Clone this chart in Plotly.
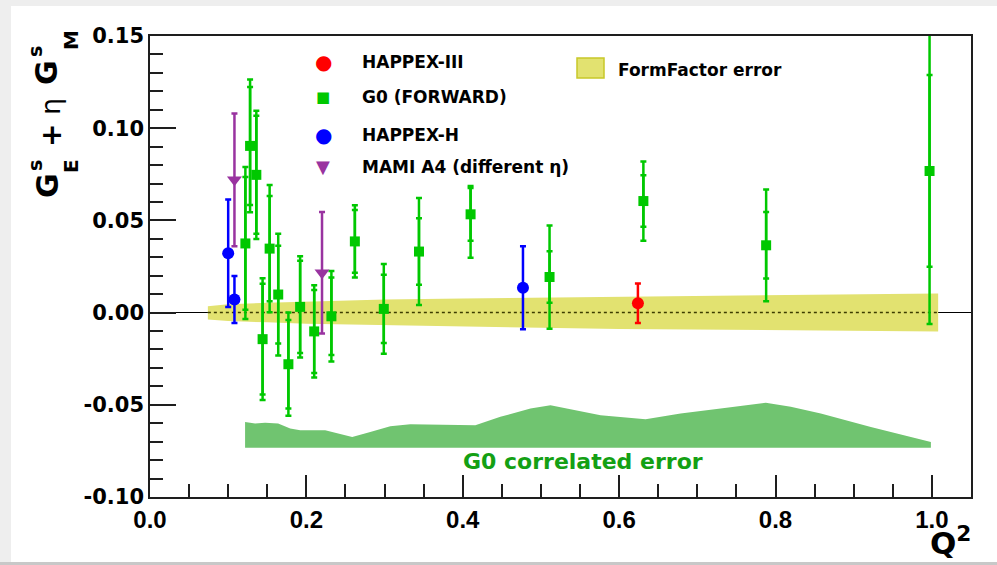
import plotly.graph_objects as go

# ---------------- data ----------------
# G0 (forward)
g0_q2 = [0.122, 0.128, 0.136, 0.144, 0.153, 0.164, 0.177, 0.192, 0.210, 0.232,
         0.262, 0.299, 0.344, 0.410, 0.511, 0.631, 0.788, 0.997]
g0_val = [0.0375, 0.0904, 0.0747, -0.0144, 0.0347, 0.0098, -0.0280, 0.0031, -0.0102, -0.0020,
          0.0386, 0.0020, 0.0331, 0.0533, 0.0193, 0.0605, 0.0365, 0.0768]
g0_stat = [0.036, 0.032, 0.032, 0.030, 0.0285, 0.0265, 0.024, 0.025, 0.0225, 0.021,
           0.017, 0.0185, 0.018, 0.0143, 0.014, 0.014, 0.018, 0.052]
g0_tot_up = [0.0415, 0.036, 0.0348, 0.033, 0.0345, 0.033, 0.028, 0.0275, 0.025, 0.0245,
             0.0196, 0.0243, 0.029, 0.0153, 0.028, 0.0215, 0.0303, 0.083]
g0_tot_dn = [0.041, 0.036, 0.0348, 0.033, 0.0345, 0.033, 0.028, 0.0275, 0.025, 0.0245,
             0.0196, 0.0243, 0.029, 0.0235, 0.028, 0.0215, 0.0303, 0.083]

# HAPPEX-III
h3_q2 = [0.624]
h3_val = [0.0051]
h3_err = [0.0107]

# HAPPEX-H
hh_q2 = [0.100, 0.108, 0.477]
hh_val = [0.0322, 0.0071, 0.0135]
hh_err = [0.0291, 0.0127, 0.0225]

# MAMI A4
a4_q2 = [0.108, 0.220]
a4_val = [0.0720, 0.0216]
a4_err = [0.0360, 0.0330]

# FormFactor error band
ff_x = [0.074, 0.10, 0.15, 0.20, 0.30, 0.40, 0.50, 0.60, 0.70, 0.80, 0.90, 1.008]
ff_hi = [0.0035, 0.0045, 0.0053, 0.0060, 0.0071, 0.0077, 0.0082, 0.0086, 0.0091, 0.0095, 0.0099, 0.0104]
ff_lo = [-0.0038, -0.0046, -0.0053, -0.0060, -0.0069, -0.0076, -0.0082, -0.0089, -0.0092, -0.0096, -0.0099, -0.0102]

# G0 correlated error band
corr_x = [0.1216, 0.1344, 0.1472, 0.1639, 0.1793, 0.1921, 0.2241, 0.2369, 0.2586, 0.2817,
          0.3073, 0.3329, 0.3713, 0.4161, 0.4481, 0.4866, 0.5122, 0.5506, 0.5762, 0.6338,
          0.6786, 0.7298, 0.7875, 0.8195, 0.8579, 0.9219, 0.9987]
corr_top = [-0.0593, -0.0602, -0.0597, -0.0602, -0.0629, -0.0638, -0.0638, -0.0653, -0.0675, -0.0648,
            -0.0617, -0.0606, -0.0609, -0.0611, -0.0565, -0.0520, -0.0502, -0.0533, -0.0556, -0.0578,
            -0.0547, -0.0520, -0.0489, -0.0511, -0.0547, -0.0620, -0.0702]
corr_base = -0.0733

y_tickvals = [-0.10, -0.05, 0.00, 0.05, 0.10, 0.15]
y_ticktext = ["-0.10", "-0.05", "0.00", "0.05", "0.10", "0.15"]
x_tickvals = [0.0, 0.2, 0.4, 0.6, 0.8, 1.0]
x_ticktext = ["0.0", "0.2", "0.4", "0.6", "0.8", "1.0"]

legend_labels = ["HAPPEX-III", "G0 (FORWARD)", "HAPPEX-H", "MAMI A4 (different η)"]

# ---------------- styles ----------------
GREEN = "rgb(0,200,0)"
BLUE = "rgb(0,0,255)"
RED = "rgb(255,0,0)"
PURPLE = "rgb(153,51,160)"
YELLOW = "rgb(226,226,112)"
CORR_GREEN = "rgb(112,196,112)"

W, H = 997, 565
L, T, R, B = 150, 36, 26, 68
PW, PH = W - L - R, H - T - B


def px(xp):
    return (xp - L) / PW


def py(yp):
    return (T + PH - yp) / PH


fig = go.Figure()

# FormFactor band
fig.add_trace(go.Scatter(
    x=ff_x + ff_x[::-1], y=ff_hi + ff_lo[::-1], fill="toself", mode="lines",
    line=dict(width=0, color=YELLOW), fillcolor=YELLOW, hoverinfo="skip"))
# dotted zero line inside band
fig.add_trace(go.Scatter(
    x=[ff_x[0], ff_x[-1]], y=[0, 0], mode="lines",
    line=dict(color="rgb(60,60,0)", width=1.5, dash="dot"), hoverinfo="skip"))

# G0 correlated band
fig.add_trace(go.Scatter(
    x=corr_x + [corr_x[-1], corr_x[0]], y=corr_top + [corr_base, corr_base],
    fill="toself", mode="lines", line=dict(width=0, color=CORR_GREEN),
    fillcolor=CORR_GREEN, hoverinfo="skip"))

# G0 stat (inner ticks)
fig.add_trace(go.Scatter(
    x=g0_q2, y=g0_val, mode="markers", marker=dict(size=1, opacity=0),
    error_y=dict(type="data", array=g0_stat, color=GREEN, thickness=2.5, width=3)))
# G0 total
fig.add_trace(go.Scatter(
    x=g0_q2, y=g0_val, mode="markers",
    marker=dict(symbol="square", size=10, color=GREEN),
    error_y=dict(type="data", symmetric=False, array=g0_tot_up, arrayminus=g0_tot_dn,
                 color=GREEN, thickness=2.5, width=3)))
# MAMI A4
fig.add_trace(go.Scatter(
    x=a4_q2, y=a4_val, mode="markers",
    marker=dict(symbol="triangle-down", size=13, color=PURPLE),
    error_y=dict(type="data", array=a4_err, color=PURPLE, thickness=2.5, width=3)))
# HAPPEX-H
fig.add_trace(go.Scatter(
    x=hh_q2, y=hh_val, mode="markers",
    marker=dict(symbol="circle", size=12, color=BLUE),
    error_y=dict(type="data", array=hh_err, color=BLUE, thickness=2.5, width=3)))
# HAPPEX-III
fig.add_trace(go.Scatter(
    x=h3_q2, y=h3_val, mode="markers",
    marker=dict(symbol="circle", size=12, color=RED),
    error_y=dict(type="data", array=h3_err, color=RED, thickness=2.5, width=3)))

ann = []
# legend
leg_sym = [("●", RED, 20), ("■", GREEN, 15), ("●", BLUE, 20), ("▼", PURPLE, 18)]
leg_y = [62.5, 96.5, 134.5, 167]
for (sym, col, sz), lab, yy in zip(leg_sym, legend_labels, leg_y):
    ann.append(dict(x=px(323), y=py(yy), xref="paper", yref="paper", text=sym,
                    showarrow=False, xanchor="center", yanchor="middle",
                    font=dict(family="DejaVu Sans", size=sz, color=col)))
    ann.append(dict(x=px(360), y=py(yy), xref="paper", yref="paper", text=lab,
                    showarrow=False, xanchor="left", yanchor="middle",
                    font=dict(family="DejaVu Sans", size=17, color="black", weight="bold")))
ann.append(dict(x=px(616), y=py(69.5), xref="paper", yref="paper", text="FormFactor error",
                showarrow=False, xanchor="left", yanchor="middle",
                font=dict(family="DejaVu Sans", size=17, color="black", weight="bold")))
ann.append(dict(x=px(583), y=py(461), xref="paper", yref="paper", text="G0 correlated error",
                showarrow=False, xanchor="center", yanchor="middle",
                font=dict(family="DejaVu Sans", size=22, color="rgb(20,160,20)", weight="bold")))

# y-axis title pieces (rotated)
ytitle = [("G", 47, 185, 30, "bold"), ("s", 35, 166, 19, "bold"), ("E", 71, 166, 20, "bold"),
          ("+", 51, 136, 28, "bold"), ("η", 50, 107, 27, "normal"),
          ("G", 47, 72, 30, "bold"), ("s", 35, 52, 19, "bold"), ("M", 71, 40, 20, "bold")]
for txt, cx, cy, sz, wt in ytitle:
    ann.append(dict(x=px(cx), y=py(cy), xref="paper", yref="paper", text=txt,
                    showarrow=False, textangle=-90, xanchor="center", yanchor="middle",
                    font=dict(family="DejaVu Sans", size=sz, color="black", weight=wt)))
# x-axis title
ann.append(dict(x=px(973), y=py(541), xref="paper", yref="paper", text="Q<sup>2</sup>",
                showarrow=False, xanchor="right", yanchor="middle",
                font=dict(family="DejaVu Sans", size=31, color="black", weight="bold")))

shapes = [
    dict(type="rect", xref="paper", yref="paper", x0=px(0), x1=px(11), y0=py(565), y1=py(0),
         fillcolor="rgb(238,238,238)", line=dict(width=0), layer="below"),
    dict(type="rect", xref="paper", yref="paper", x0=px(0), x1=px(997), y0=py(6), y1=py(0),
         fillcolor="rgb(238,238,238)", line=dict(width=0), layer="below"),
    dict(type="rect", xref="paper", yref="paper", x0=px(0), x1=px(997), y0=py(565), y1=py(562),
         fillcolor="rgb(200,200,200)", line=dict(width=0), layer="below"),
    dict(type="rect", xref="paper", yref="paper", x0=px(577), x1=px(604), y0=py(78), y1=py(58),
         fillcolor=YELLOW, line=dict(width=1.5, color="rgb(200,200,40)")),
]

fig.update_layout(
    width=W, height=H, margin=dict(l=L, r=R, t=T, b=B),
    paper_bgcolor="white", plot_bgcolor="white", showlegend=False,
    annotations=ann, shapes=shapes,
    xaxis=dict(range=[0, 1.05], showgrid=False, zeroline=False,
               showline=True, mirror=True, linecolor="rgb(30,30,30)", linewidth=1.5,
               ticks="inside", ticklen=22, tickwidth=1.5, tickcolor="rgb(30,30,30)",
               tickvals=x_tickvals, ticktext=x_ticktext,
               tickfont=dict(family="Liberation Sans", size=24, color="black", weight="bold"),
               minor=dict(ticks="inside", ticklen=13, tickwidth=1.5, tickcolor="rgb(30,30,30)",
                          dtick=0.05, tick0=0, showgrid=False)),
    yaxis=dict(range=[-0.1, 0.15], showgrid=False, zeroline=True, zerolinecolor="black",
               zerolinewidth=1,
               showline=True, mirror=True, linecolor="rgb(30,30,30)", linewidth=1.5,
               ticks="inside", ticklen=26, tickwidth=1.5, tickcolor="rgb(30,30,30)",
               tickvals=y_tickvals, ticktext=y_ticktext,
               tickfont=dict(family="DejaVu Sans", size=21, color="black", weight="bold"),
               minor=dict(ticks="inside", ticklen=13, tickwidth=1.5, tickcolor="rgb(30,30,30)",
                          dtick=0.01, tick0=0, showgrid=False)),
)

fig.write_html("out.html")
